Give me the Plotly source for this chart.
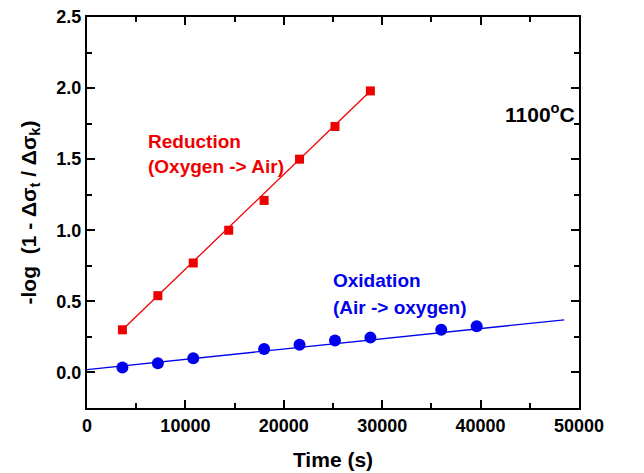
import plotly.graph_objects as go

# Data
red_time = [3600, 7200, 10800, 14400, 18000, 21600, 25200, 28800]
red_val = [0.30, 0.54, 0.77, 1.00, 1.21, 1.50, 1.73, 1.98]
red_fit_time = [3600, 28800]
red_fit_val = [0.30, 1.98]

blue_time = [3600, 7200, 10800, 18000, 21600, 25200, 28800, 36000, 39600]
blue_val = [0.035, 0.065, 0.10, 0.165, 0.195, 0.225, 0.245, 0.30, 0.325]
blue_fit_time = [0, 48500]
blue_fit_val = [0.02, 0.37]

x_tick_vals = [0, 10000, 20000, 30000, 40000, 50000]
y_tick_vals = [0.0, 0.5, 1.0, 1.5, 2.0, 2.5]

FONT = "Liberation Sans, Arial, sans-serif"
RED = "#ee0000"
BLUE = "#0000ee"

fig = go.Figure()
fig.add_trace(go.Scatter(x=red_fit_time, y=red_fit_val, mode="lines",
                         line=dict(color=RED, width=1.3), showlegend=False))
fig.add_trace(go.Scatter(x=blue_fit_time, y=blue_fit_val, mode="lines",
                         line=dict(color=BLUE, width=1.3), showlegend=False))
fig.add_trace(go.Scatter(x=red_time, y=red_val, mode="markers",
                         marker=dict(symbol="square", size=9, color=RED), showlegend=False))
fig.add_trace(go.Scatter(x=blue_time, y=blue_val, mode="markers",
                         marker=dict(symbol="circle", size=12, color=BLUE), showlegend=False))

axis_common = dict(showgrid=False, zeroline=False, showline=True, linecolor="black",
                   linewidth=2, mirror="ticks", ticks="inside", ticklen=8, tickwidth=1.5,
                   tickcolor="black", automargin=False,
                   tickfont=dict(family=FONT, size=18, color="black", weight="bold"))

fig.update_xaxes(range=[0, 50000], tickvals=x_tick_vals,
                 ticktext=[str(v) for v in x_tick_vals],
                 minor=dict(ticks="inside", ticklen=5, dtick=5000, tickwidth=1.5, tickcolor="black"),
                 title=dict(text="Time (s)", font=dict(family=FONT, size=21, color="black", weight="bold"),
                            standoff=18),
                 **axis_common)
fig.update_yaxes(range=[-0.25, 2.5], tickvals=y_tick_vals,
                 ticktext=["%.1f" % v for v in y_tick_vals],
                 minor=dict(ticks="inside", ticklen=5, dtick=0.25, tick0=0, tickwidth=1.5, tickcolor="black"),
                 title=dict(text="-log  (1 - Δσ<sub>t</sub> / Δσ<sub>k</sub>)",
                            font=dict(family=FONT, size=21, color="black", weight="bold"),
                            standoff=14),
                 **axis_common)

ann_font = lambda c, s: dict(family=FONT, size=s, color=c, weight="bold")
fig.add_annotation(x=6000, y=1.627, text="Reduction", showarrow=False, xanchor="left",
                   yanchor="middle", font=ann_font(RED, 19))
fig.add_annotation(x=6000, y=1.45, text="(Oxygen -> Air)", showarrow=False, xanchor="left",
                   yanchor="middle", font=ann_font(RED, 19))
fig.add_annotation(x=24800, y=0.648, text="Oxidation", showarrow=False, xanchor="left",
                   yanchor="middle", font=ann_font(BLUE, 19))
fig.add_annotation(x=24800, y=0.46, text="(Air -> oxygen)", showarrow=False, xanchor="left",
                   yanchor="middle", font=ann_font(BLUE, 19))
fig.add_annotation(x=42300, y=1.824, text="1100<sup>o</sup>C", showarrow=False, xanchor="left",
                   yanchor="middle", font=ann_font("black", 21))

fig.update_layout(width=644, height=473, margin=dict(l=87, r=65, t=17, b=65),
                  plot_bgcolor="white", paper_bgcolor="white",
                  font=dict(family=FONT))

fig.write_html("out.html")
